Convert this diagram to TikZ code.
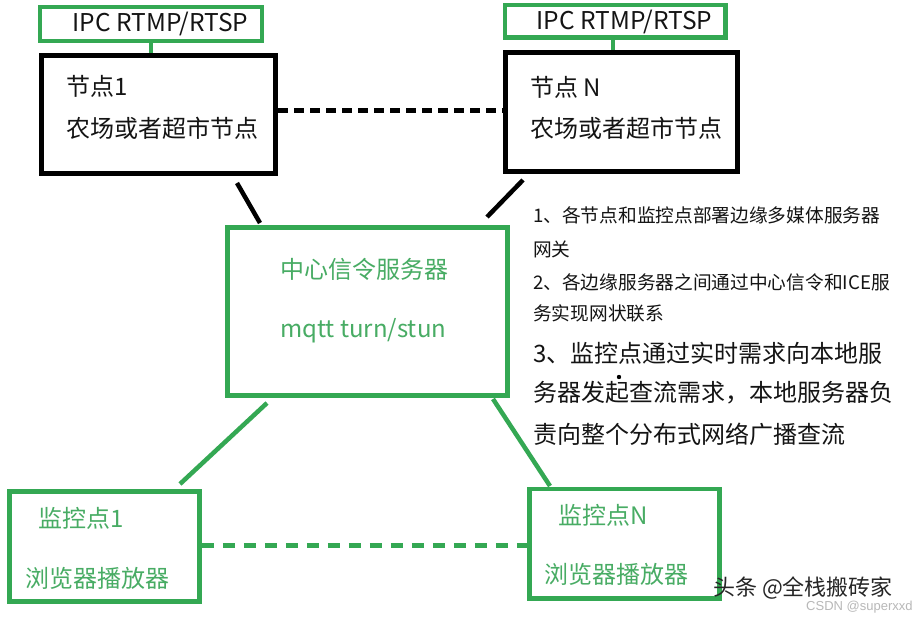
\documentclass[tikz,border=0pt]{standalone}
\usepackage{fontspec}
\setmainfont{Noto Sans CJK SC}
\setsansfont{Liberation Sans}
\definecolor{gline}{RGB}{52,168,83}
\definecolor{gtext}{RGB}{72,172,100}
\definecolor{ktext}{RGB}{20,20,20}
\begin{document}
\begin{tikzpicture}[x=1pt,y=-1pt,
  gbox/.style={draw=gline,line width=4.5pt,inner sep=0pt},
  kbox/.style={draw=black,line width=5pt,inner sep=0pt},
  klink/.style={draw=black,line width=4.5pt},
  glink/.style={draw=gline,line width=4.5pt},
  kdash/.style={draw=black,line width=5pt,dash pattern=on 10pt off 6pt},
  gdash/.style={draw=gline,line width=4.5pt,dash pattern=on 12pt off 9pt},
  lbl/.style={anchor=west,inner sep=0pt,text=ktext,font=\fontsize{24}{28}\selectfont},
  glbl/.style={anchor=west,inner sep=0pt,text=gtext,font=\fontsize{24}{28}\selectfont},
  ipclbl/.style={inner sep=0pt,text=ktext,font=\fontsize{24.5}{28}\selectfont},
  note/.style={anchor=west,inner sep=0pt,text=ktext,font=\fontsize{18.7}{22}\selectfont},
  bignote/.style={anchor=west,inner sep=0pt,text=ktext,font=\fontsize{24}{28}\selectfont}
]
\useasboundingbox[fill=white] (0,0) rectangle (924,620);

% boxes
\node[gbox,minimum width=222pt,minimum height=34pt] (ipc1) at (151,24) {};
\node[gbox,minimum width=220.5pt,minimum height=32.5pt] (ipcN) at (615.25,21.25) {};
\node[kbox,minimum width=234.5pt,minimum height=118.5pt] (n1) at (158.25,114.75) {};
\node[kbox,minimum width=232.5pt,minimum height=119.5pt] (nN) at (621.25,112.25) {};
\node[gbox,minimum width=280pt,minimum height=168pt] (ctr) at (367.5,311.5) {};
\node[gbox,minimum width=190pt,minimum height=110pt] (m1) at (104.5,546.5) {};
\node[gbox,minimum width=190pt,minimum height=109.5pt] (mN) at (624.5,543.75) {};

% labels
\node[ipclbl] (ipc1t) at (160.5,24) {IPC RTMP/RTSP};
\node[ipclbl] (ipcNt) at (624.5,21.5) {IPC RTMP/RTSP};
\node[lbl] (n1a) at (66,86) {节点1};
\node[lbl] (n1b) at (66,128) {农场或者超市节点};
\node[lbl] (nNa) at (530,87) {节点 N};
\node[lbl] (nNb) at (530,128) {农场或者超市节点};
\node[glbl] (ca) at (280,269) {中心信令服务器};
\node[glbl] (cb) at (280,331) {mqtt turn/stun};
\node[glbl] (m1a) at (38,518) {监控点1};
\node[glbl] (m1b) at (25,578) {浏览器播放器};
\node[glbl] (mNa) at (558,515) {监控点N};
\node[glbl] (mNb) at (544,574) {浏览器播放器};

% notes
\node[note] (t1) at (533,215) {1、各节点和监控点部署边缘多媒体服务器};
\node[note] (t2) at (533,249) {网关};
\node[note] (t3) at (533,282) {2、各边缘服务器之间通过中心信令和ICE服};
\node[note] (t4) at (533,313) {务实现网状联系};
\node[bignote] (t5) at (533,353) {3、监控点通过实时需求向本地服};
\node[bignote] (t6) at (533,393) {务器发起查流需求，本地服务器负};
\node[bignote] (t7) at (533,434) {责向整个分布式网络广播查流};
\fill[black] (619,377) circle (2.2pt);

% connectors
\draw[glink,line width=3.5pt] (ipc1.south) -- (ipc1.south |- n1.north);
\draw[glink,line width=3.5pt] (ipcN.south -| 613,0) -- (nN.north -| 613,0);
\draw[kdash] (n1.east |- 0,110.5) -- (nN.west |- 0,110.5);
\coordinate (a1) at (237,183);
\coordinate (a2) at (260,223);
\coordinate (b1) at (523,180);
\coordinate (b2) at (487,217);
\draw[klink] (a1) -- (a2);
\draw[klink] (b1) -- (b2);
\coordinate (c1) at (267,403);
\coordinate (c2) at (180,484);
\coordinate (d1) at (493,399);
\coordinate (d2) at (550,486);
\draw[glink] (c1) -- (c2);
\draw[glink] (d1) -- (d2);
\draw[gdash] (m1.east |- 0,545.7) -- (mN.west |- 0,545.7);

% watermark
\node[anchor=west,inner sep=0pt,text=black!85,font=\fontsize{22}{26}\selectfont] (wm1) at (713,588) {头条 @全栈搬砖家};
\node[anchor=west,inner sep=0pt,text=black!28,font=\sffamily\fontsize{13}{16}\selectfont] (wm2) at (806,607.5) {CSDN @superxxd};
\end{tikzpicture}
\end{document}
